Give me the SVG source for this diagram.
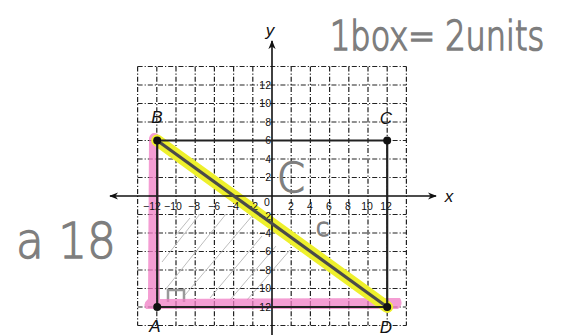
<svg xmlns="http://www.w3.org/2000/svg" width="564" height="336" viewBox="0 0 564 336">
<defs>
<style>
.grid{stroke:#222;stroke-width:1.2;stroke-dasharray:5 2 1.2 2;fill:none}
.axis{stroke:#111;stroke-width:1.6;fill:none}
.side{stroke:#222;stroke-width:2.2;fill:none}
.tick{font-family:"Liberation Sans",Arial,sans-serif;font-size:10.5px;fill:#111}
.pt{font-family:"Liberation Sans",Arial,sans-serif;font-size:17px;font-style:italic;fill:#111}
.hand{font-family:"DejaVu Sans",sans-serif;font-weight:200;fill:#7e7e7e;stroke:#7e7e7e;stroke-width:1.3}
.hatch{stroke:#bdbdbd;stroke-width:1;fill:none}
</style>
<marker id="ah" viewBox="0 0 10 10" refX="9" refY="5" markerWidth="9" markerHeight="9" orient="auto" markerUnits="userSpaceOnUse">
<path d="M0,1 L10,5 L0,9 L3,5 Z" fill="#111"/>
</marker>
</defs>
<rect width="564" height="336" fill="#fff"/>

<g id="grid">
<path class="grid" d="M137.6,66.5V325.5M156.8,66.5V325.5M176,66.5V325.5M195.2,66.5V325.5M214.4,66.5V325.5M233.6,66.5V325.5M252.8,66.5V325.5M291.2,66.5V325.5M310.4,66.5V325.5M329.6,66.5V325.5M348.8,66.5V325.5M368,66.5V325.5M387.2,66.5V325.5M406.4,66.5V325.5"/>
<path class="grid" d="M137.6,66.5H406.4M137.6,85H406.4M137.6,103.5H406.4M137.6,122H406.4M137.6,140.5H406.4M137.6,159H406.4M137.6,177.5H406.4M137.6,214.5H406.4M137.6,233H406.4M137.6,251.5H406.4M137.6,270H406.4M137.6,288.5H406.4M137.6,307H406.4M137.6,325.5H406.4"/>
</g>

<g id="hatching">
<path class="hatch" d="M162,262 L200,214 M165,290 L226,214 M185,295 L252,216 M210,298 L262,236 M230,300 L276,246 M175,236 L190,218 M247,300 L290,250"/>
<path d="M168,302 V290 H184 V302" stroke="#999" stroke-width="2.5" fill="none"/>
</g>

<g id="highlights">
<path d="M149,138 Q151,131 158,134 L160,299 L400,298 Q404,304 398,309 L146,309 Q142,304 148,299 Z" fill="#f07cc4" opacity="0.75"/>
<line x1="157.2" y1="140.5" x2="387.2" y2="307" stroke="#eef02c" stroke-width="12" stroke-linecap="round"/>
</g>

<g id="axes">
<line class="axis" x1="272" y1="335" x2="272" y2="41" marker-end="url(#ah)"/>
<line class="axis" x1="272" y1="196" x2="436" y2="196" marker-end="url(#ah)"/>
<line class="axis" x1="272" y1="196" x2="110" y2="196" marker-end="url(#ah)"/>
<text x="270" y="36" class="pt" font-size="18" text-anchor="middle">y</text>
<text x="449" y="202" class="pt" font-size="18" text-anchor="middle">x</text>
</g>

<g id="ticks" class="tick">
<text x="152" y="210" text-anchor="middle">−12</text>
<text x="173" y="210" text-anchor="middle">−10</text>
<text x="194" y="210" text-anchor="middle">−8</text>
<text x="214" y="210" text-anchor="middle">−6</text>
<text x="233" y="210" text-anchor="middle">−4</text>
<text x="252" y="210" text-anchor="middle">−2</text>
<text x="267" y="206" text-anchor="middle">0</text>
<text x="291" y="210" text-anchor="middle">2</text>
<text x="310" y="210" text-anchor="middle">4</text>
<text x="329" y="210" text-anchor="middle">6</text>
<text x="348" y="210" text-anchor="middle">8</text>
<text x="367" y="210" text-anchor="middle">10</text>
<text x="386" y="210" text-anchor="middle">12</text>
<g text-anchor="end">
<text x="271" y="88.5">12</text>
<text x="271" y="107">10</text>
<text x="271" y="125.5">8</text>
<text x="271" y="144">6</text>
<text x="271" y="162.5">4</text>
<text x="271" y="181">2</text>
<text x="271" y="219.5">−2</text>
<text x="271" y="236.5">−4</text>
<text x="271" y="255">−6</text>
<text x="271" y="273.5">−8</text>
<text x="271" y="292">−10</text>
<text x="271" y="310.5">−12</text>
</g>
</g>

<g id="rectangle">
<path class="side" d="M157.2,140.5 H387.2 V307 H157.2 Z"/>
<line x1="157.2" y1="140.5" x2="387.2" y2="307" stroke="#4a4a4a" stroke-width="3.2"/>
</g>

<g id="B"><circle cx="157.2" cy="140.5" r="4" fill="#111"/><text x="157" y="123" class="pt" text-anchor="middle">B</text></g>
<g id="C"><circle cx="387.2" cy="140.5" r="4" fill="#111"/><text x="386" y="124" class="pt" text-anchor="middle">C</text></g>
<g id="A"><circle cx="157.2" cy="307" r="4" fill="#111"/><text x="155" y="332" class="pt" text-anchor="middle">A</text></g>
<g id="D"><circle cx="387.2" cy="307" r="4" fill="#111"/><text x="386" y="333" class="pt" text-anchor="middle">D</text></g>

<g id="handwriting">
<text transform="translate(330,50) scale(1,1.3)" class="hand" font-size="32">1box= 2units</text>
<text x="16" y="258" class="hand" font-size="50" textLength="100" lengthAdjust="spacingAndGlyphs">a 18</text>
<text x="277" y="192" class="hand" font-size="40">C</text>
<text x="316" y="236" class="hand" font-size="24">c</text>
</g>
</svg>
